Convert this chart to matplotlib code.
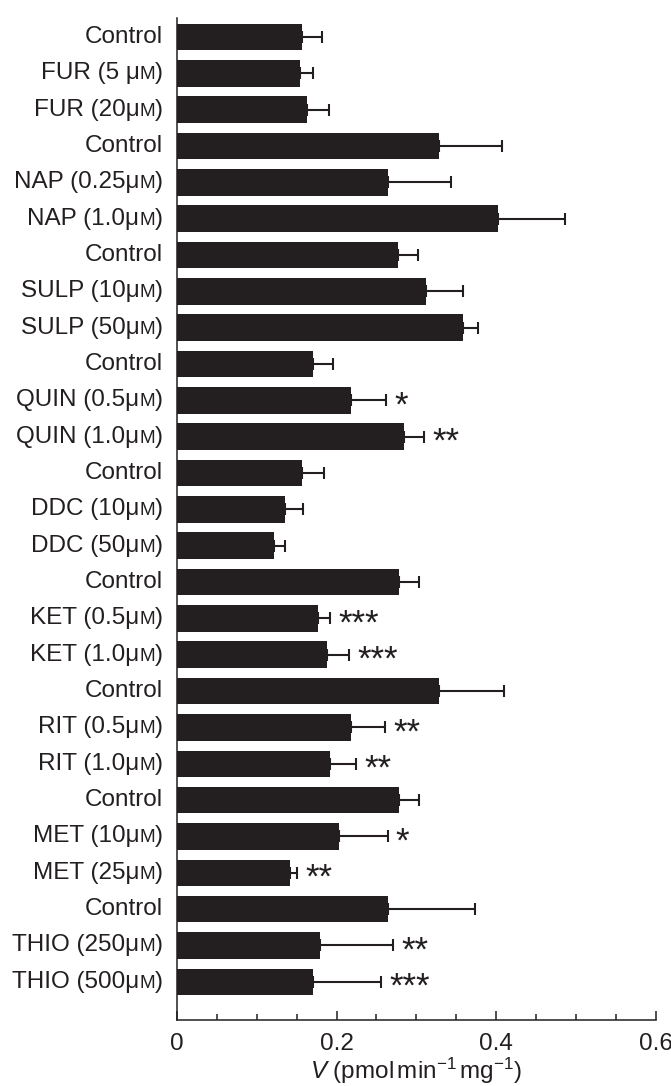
import numpy as np
import matplotlib
matplotlib.use("Agg")
import matplotlib.pyplot as plt
from matplotlib.offsetbox import TextArea, HPacker, AnnotationBbox
from matplotlib.ticker import MultipleLocator

plt.rcParams["font.family"] = ["Liberation Sans", "DejaVu Sans"]
plt.rcParams["mathtext.fontset"] = "custom"
plt.rcParams["mathtext.rm"] = "Liberation Sans"
plt.rcParams["mathtext.it"] = "Liberation Sans:italic"

# Treatments, top to bottom
labels = [
    "Control", "FUR (5 μM)", "FUR (20μM)",
    "Control", "NAP (0.25μM)", "NAP (1.0μM)",
    "Control", "SULP (10μM)", "SULP (50μM)",
    "Control", "QUIN (0.5μM)", "QUIN (1.0μM)",
    "Control", "DDC (10μM)", "DDC (50μM)",
    "Control", "KET (0.5μM)", "KET (1.0μM)",
    "Control", "RIT (0.5μM)", "RIT (1.0μM)",
    "Control", "MET (10μM)", "MET (25μM)",
    "Control", "THIO (250μM)", "THIO (500μM)",
]

# Mean rate V (pmol min^-1 mg^-1)
rate = [
    0.157, 0.154, 0.163,
    0.328, 0.264, 0.402,
    0.277, 0.312, 0.358,
    0.171, 0.218, 0.285,
    0.157, 0.136, 0.122,
    0.278, 0.177, 0.188,
    0.328, 0.218, 0.192,
    0.278, 0.203, 0.142,
    0.264, 0.179, 0.171,
]

# Upper error (SD)
rate_err = [
    0.025, 0.017, 0.027,
    0.080, 0.080, 0.085,
    0.025, 0.046, 0.020,
    0.025, 0.044, 0.025,
    0.027, 0.022, 0.014,
    0.026, 0.015, 0.028,
    0.082, 0.043, 0.033,
    0.026, 0.061, 0.008,
    0.110, 0.092, 0.085,
]

# Significance versus the matching control
signif = [
    "", "", "",
    "", "", "",
    "", "", "",
    "", "*", "**",
    "", "", "",
    "", "***", "***",
    "", "**", "**",
    "", "*", "**",
    "", "**", "***",
]

x_ticks = [0, 0.2, 0.4, 0.6]
x_ticklabels = ["0", "0.2", "0.4", "0.6"]

ink = "#231f20"
fs = 17.5

fig = plt.figure(figsize=(6.71, 10.86), dpi=100)
ax = fig.add_axes([177 / 671, 1 - 1020 / 1086, (655.5 - 177) / 671, (1020 - 18) / 1086])

n = len(labels)
pos = np.arange(n)
ax.barh(pos, rate, height=0.73, color=ink, zorder=2)
ax.errorbar(rate, pos, xerr=[np.zeros(n), rate_err], fmt="none",
            ecolor=ink, elinewidth=1.5, capsize=4.3, capthick=1.5, zorder=3)

# significance stars beside the error caps
for i, (v, e, s) in enumerate(zip(rate, rate_err, signif)):
    if s:
        ax.annotate(s, xy=(v + e, i), xytext=(6, -4),
                    textcoords="offset points", ha="left", va="center",
                    fontsize=25, color=ink)

# category labels with small-capital M in the unit
for i, lab in enumerate(labels):
    if "μM" in lab:
        head, tail = lab.split("μM")
        parts = [TextArea(head + "μ", textprops=dict(fontsize=fs, color=ink)),
                 TextArea("M", textprops=dict(fontsize=fs * 0.78, color=ink)),
                 TextArea(tail, textprops=dict(fontsize=fs, color=ink))]
        box = HPacker(children=parts, align="baseline", pad=0, sep=0)
    else:
        box = TextArea(lab, textprops=dict(fontsize=fs, color=ink))
    ab = AnnotationBbox(box, xy=(0, i), xycoords=("axes fraction", "data"),
                        xybox=(-10, 0), boxcoords="offset points",
                        box_alignment=(1, 0.5), frameon=False, pad=0,
                        annotation_clip=False)
    ax.add_artist(ab)

ax.set_ylim(n - 1 + 1.05, -0.52)
ax.set_xlim(0, 0.6)
ax.set_yticks([])
ax.set_xticks(x_ticks)
ax.set_xticklabels(x_ticklabels)
ax.xaxis.set_minor_locator(MultipleLocator(0.05))
ax.tick_params(axis="x", which="major", direction="in", length=6.5, width=1.1,
               color=ink, labelsize=fs, labelcolor=ink, pad=9)
ax.tick_params(axis="x", which="minor", direction="in", length=4.3, width=1.1, color=ink)

for side in ("top", "right"):
    ax.spines[side].set_visible(False)
for side in ("left", "bottom"):
    ax.spines[side].set_linewidth(1.1)
    ax.spines[side].set_color(ink)

ax.set_xlabel(r"$V$ (pmol$\,$min$^{-1}$$\,$mg$^{-1}$)", fontsize=fs, color=ink, labelpad=1)

fig.savefig("out.png", dpi=100)
